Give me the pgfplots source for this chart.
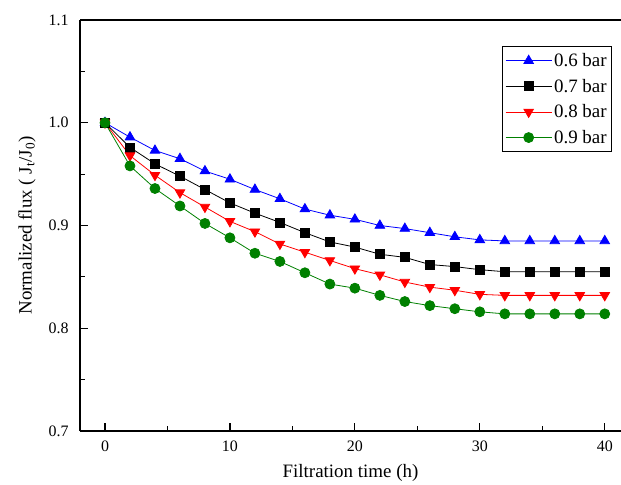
\documentclass[border=0pt]{standalone}
\usepackage{pgfplots}
\pgfplotsset{compat=1.18}
\usepackage{fontspec}
\setmainfont{Liberation Serif}
\usetikzlibrary{calc}

\pgfplotstableread{
t v
0 1.000
2 0.986
4 0.973
6 0.965
8 0.953
10 0.945
12 0.935
14 0.926
16 0.916
18 0.910
20 0.906
22 0.900
24 0.897
26 0.893
28 0.889
30 0.886
32 0.885
34 0.885
36 0.885
38 0.885
40 0.885
}\pointsix
\pgfplotstableread{
t v
0 1.000
2 0.976
4 0.960
6 0.948
8 0.935
10 0.922
12 0.912
14 0.903
16 0.893
18 0.884
20 0.879
22 0.872
24 0.869
26 0.862
28 0.860
30 0.857
32 0.855
34 0.855
36 0.855
38 0.855
40 0.855
}\pointseven
\pgfplotstableread{
t v
0 1.000
2 0.968
4 0.949
6 0.932
8 0.918
10 0.904
12 0.894
14 0.882
16 0.874
18 0.866
20 0.858
22 0.852
24 0.845
26 0.840
28 0.837
30 0.833
32 0.832
34 0.832
36 0.832
38 0.832
40 0.832
}\pointeight
\pgfplotstableread{
t v
0 1.000
2 0.958
4 0.936
6 0.919
8 0.902
10 0.888
12 0.873
14 0.865
16 0.854
18 0.843
20 0.839
22 0.832
24 0.826
26 0.822
28 0.819
30 0.816
32 0.814
34 0.814
36 0.814
38 0.814
40 0.814
}\pointnine

\begin{document}
\begin{tikzpicture}
\begin{axis}[
  scale only axis, width=541bp, height=411bp,
  xmin=-2, xmax=41.3, ymin=0.7, ymax=1.1,
  axis x line*=box, axis y line*=left,
  axis line style={-, line width=1.2bp},
  xtick={0,10,...,40}, ytick={0.7,0.8,...,1.1},
  minor x tick num=1, minor y tick num=1,
  xtick pos=left, ytick pos=left,
  tick align=inside,
  major tick length=8bp, minor tick length=5bp,
  every tick/.style={black, line width=1.2bp},
  yticklabel style={xshift=-8bp, /pgf/number format/.cd, fixed, fixed zerofill, precision=1},
  /pgf/number format/assume math mode=true,
  ticklabel style={font=\fontsize{16}{18}\selectfont},
  xticklabel style={yshift=-6bp},
  label style={font=\fontsize{19}{22}\selectfont},
  xlabel={Filtration time (h)},
  ylabel={Normalized flux ( J\textsubscript{t}/J\textsubscript{0})},
  xlabel style={yshift=-6bp},
  ylabel style={yshift=6bp},
  legend style={at={(0.9834,0.9367)}, anchor=north east, draw=black,
    line width=0.8bp, font=\fontsize{19}{21}\selectfont,
    row sep=7bp, inner xsep=3bp, inner ysep=5bp},
  legend cell align=left,
  legend image code/.code={\draw[mark repeat=2, mark phase=2, line width=0.8bp]
    plot coordinates {(0bp,0bp) (23bp,0bp) (46bp,0bp)};},
  every axis plot/.append style={line width=0.8bp},
]
\addplot[blue, mark=triangle*, mark size=5.5bp, mark options={solid}] table[x=t, y=v] {\pointsix};
\addlegendentry{0.6 bar}
\addplot[black, mark=square*, mark size=4.5bp] table[x=t, y=v] {\pointseven};
\addlegendentry{0.7 bar}
\addplot[red, mark=triangle*, mark size=5.5bp, mark options={rotate=180}] table[x=t, y=v] {\pointeight};
\addlegendentry{0.8 bar}
\addplot[green!50!black, mark=*, mark size=5bp] table[x=t, y=v] {\pointnine};
\addlegendentry{0.9 bar}
\end{axis}
\pgfresetboundingbox
\path ($(current axis.south west)+(-80bp,-54bp)$) rectangle ($(current axis.north east)+(0bp,20bp)$);
\end{tikzpicture}
\end{document}
